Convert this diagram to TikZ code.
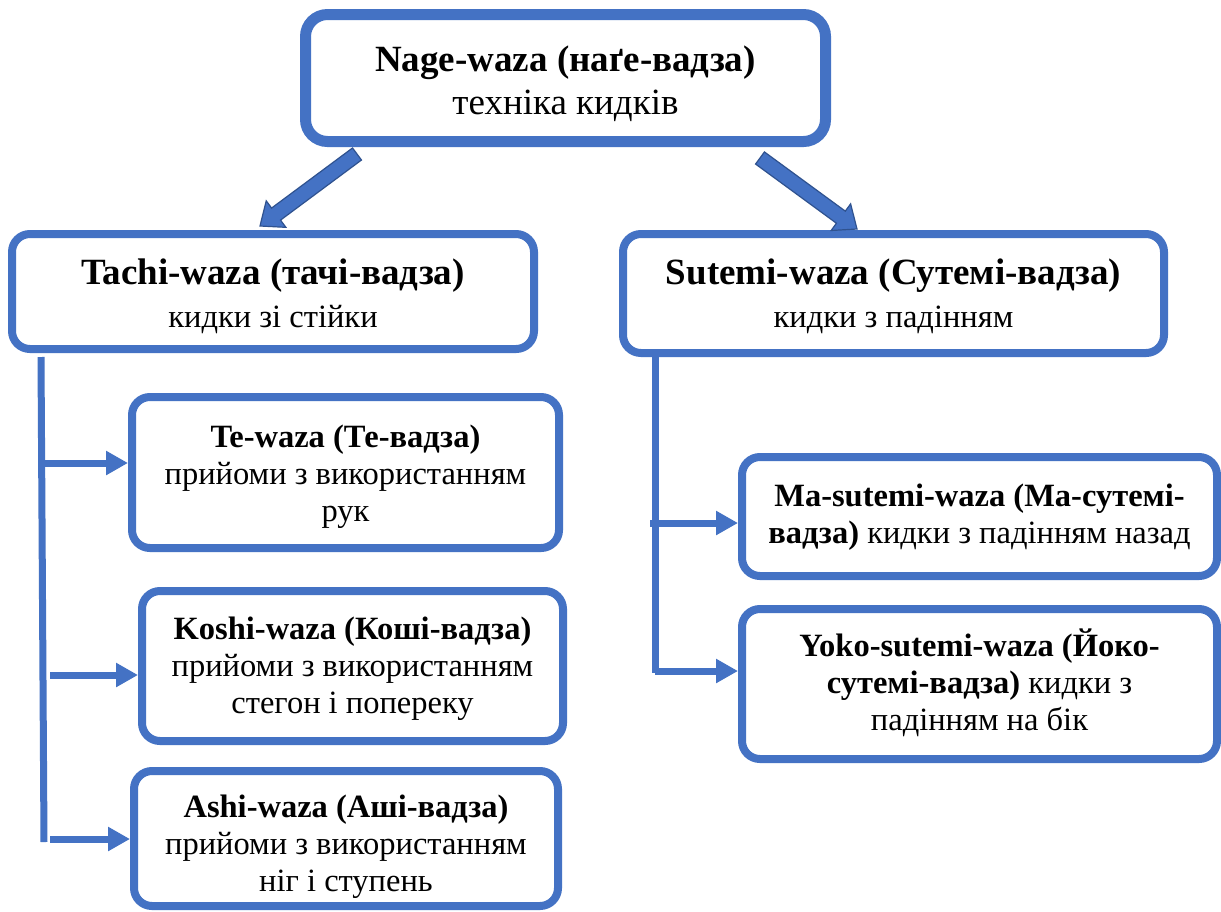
\documentclass[tikz,border=0pt]{standalone}
\usepackage{fontspec}
\setmainfont{Liberation Serif}
\usetikzlibrary{calc,arrows.meta}
\definecolor{boxblue}{HTML}{4472C4}
\definecolor{edgeblue}{HTML}{2F528F}
\tikzset{
  box/.style={draw=boxblue, fill=white, rounded corners=18pt, align=center,
    inner sep=0pt, line width=8pt},
  bigtext/.style={font=\fontsize{37}{43}\selectfont},
  smalltext/.style={font=\fontsize{32.5}{37}\selectfont},
  link/.style={draw=boxblue, line width=7pt},
  linkarrow/.style={link, -{Triangle[length=22pt,width=23pt]}},
  blockfill/.style={fill=boxblue, draw=edgeblue, line width=1.2pt, line join=miter},
}
% thick block arrow from #1 (tail) to #2 (tip)
\newcommand\blockarrow[2]{%
  \coordinate (#2-h) at ($(#2)!20pt!(#1)$);
  \path[blockfill] ($(#1)!7.5pt!90:(#2)$) -- ($(#2-h)!7.5pt!90:(#2)$)
    -- ($(#2-h)!16.5pt!90:(#2)$) -- (#2) -- ($(#2-h)!16.5pt!-90:(#2)$)
    -- ($(#2-h)!7.5pt!-90:(#2)$) -- ($(#1)!7.5pt!-90:(#2)$) -- cycle;
}
% centred block of lines, set #1 lower while keeping its size
\newcommand\lines[2]{\raisebox{-#1}[\height][\depth]{\begin{tabular}{@{}c@{}}#2\end{tabular}}}
\newcommand\sublabel[1]{{\fontsize{32.5}{37}\selectfont #1}}
\begin{document}
\begin{tikzpicture}[x=1pt, y=-1pt]
\useasboundingbox (0,0) rectangle (1221,911);
\fill[white] (0,0) rectangle (1221,911);

% top level
\node[box, bigtext, line width=11pt, rounded corners=22pt,
  minimum width=520pt, minimum height=127pt] (nage) at (565.5,78)
  {\lines{6.5pt}{\textbf{Nage-waza (наґе-вадза)}\\техніка кидків}};

% second level
\node[box, bigtext, minimum width=522pt, minimum height=115pt] (tachi) at (273,291.5)
  {\lines{5.5pt}{\textbf{Tachi-waza (тачі-вадза)}\\\sublabel{кидки зі стійки}}};
\node[box, bigtext, minimum width=541pt, minimum height=119pt] (sutemi) at (893.5,293.5)
  {\lines{3.5pt}{\textbf{Sutemi-waza (Сутемі-вадза)}\\\sublabel{кидки з падінням}}};

% tachi-waza groups
\node[box, smalltext, minimum width=427pt, minimum height=151pt] (te) at (345.5,472.5)
  {\lines{4.5pt}{\textbf{Te-waza (Те-вадза)}\\прийоми з використанням\\рук}};
\node[box, smalltext, minimum width=421pt, minimum height=150pt] (koshi) at (352.5,666)
  {\lines{3pt}{\textbf{Koshi-waza (Коші-вадза)}\\прийоми з використанням\\стегон і попереку}};
\node[box, smalltext, minimum width=424pt, minimum height=135pt] (ashi) at (346,838.5)
  {\lines{9pt}{\textbf{Ashi-waza (Аші-вадза)}\\прийоми з використанням\\ніг і ступень}};

% sutemi-waza groups
\node[box, smalltext, minimum width=475pt, minimum height=119pt] (ma) at (979.5,516.5)
  {\lines{1pt}{\textbf{Ma-sutemi-waza (Ма-сутемі-}\\\textbf{вадза)} кидки з падінням назад}};
\node[box, smalltext, minimum width=475pt, minimum height=150pt] (yoko) at (979.5,684)
  {\lines{1.5pt}{\textbf{Yoko-sutemi-waza (Йоко-}\\\textbf{сутемі-вадза)} кидки з\\падінням на бік}};

% block arrows from the top box
\coordinate (nl) at (357,154);
\coordinate (tl) at (260,226);
\coordinate (nr) at (760,158);
\coordinate (tr) at (857,229);
\blockarrow{nl}{tl}
\blockarrow{nr}{tr}

% left bracket
\coordinate (lt) at (41,357);
\coordinate (lb) at (44,842);
\coordinate (l1) at (44,463);
\coordinate (l2) at (50,675);
\coordinate (l3) at (50,839);
\draw[link] (lt) -- (lb);
\draw[linkarrow] (l1) -- (te.west |- l1);
\draw[linkarrow] (l2) -- (koshi.west |- l2);
\draw[linkarrow] (l3) -- (ashi.west |- l3);

% right bracket
\coordinate (rt) at (655,357);
\coordinate (rb) at (655,673);
\coordinate (r1) at (650,523);
\coordinate (r2) at (655,671);
\draw[link] (rt) -- (rb);
\draw[linkarrow] (r1) -- (ma.west |- r1);
\draw[linkarrow] (r2) -- (yoko.west |- r2);
\end{tikzpicture}
\end{document}
